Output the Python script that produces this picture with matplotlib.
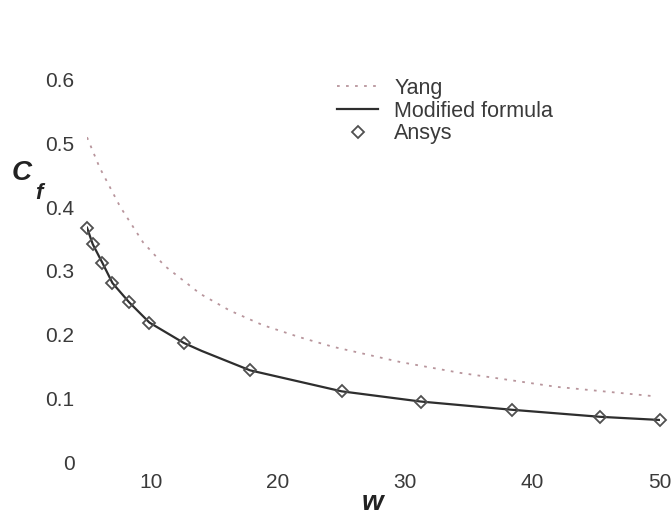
import matplotlib

matplotlib.use("Agg")
import matplotlib.pyplot as plt

# values
yang_w = [5.0, 6.0, 7.6, 9.4, 11.1, 13.9, 16.2, 18.8, 21.7, 24.3, 29.6, 34.3, 41.9, 49.7]
yang_cf = [0.51, 0.462, 0.401, 0.345, 0.308, 0.264, 0.238, 0.215, 0.196, 0.181, 0.157, 0.140, 0.118, 0.103]

mod_w = [5.0, 5.45, 6.2, 7.0, 8.3, 9.9, 12.6, 14.0, 17.8, 25.0, 31.2, 38.4, 45.3, 50.0]
mod_cf = [0.368, 0.342, 0.313, 0.281, 0.251, 0.219, 0.187, 0.1745, 0.144, 0.111, 0.095, 0.082, 0.071, 0.066]

ansys_w = [5.0, 5.45, 6.2, 7.0, 8.3, 9.9, 12.6, 17.8, 25.0, 31.2, 38.4, 45.3, 50.0]
ansys_cf = [0.368, 0.342, 0.313, 0.281, 0.251, 0.219, 0.187, 0.144, 0.111, 0.095, 0.082, 0.071, 0.066]

xticks = [10, 20, 30, 40, 50]
yticks = [0, 0.1, 0.2, 0.3, 0.4, 0.5, 0.6]

plt.rcParams["font.family"] = ["Liberation Sans", "DejaVu Sans"]
text_col = "#3a3a3a"

fig = plt.figure(figsize=(6.72, 5.19), dpi=100)
ax = fig.add_axes([0.1295, 0.1098, 0.8525, 0.7362])

ax.plot(yang_w, yang_cf, color="#b8959c", linestyle=(0, (1.5, 3.5)), linewidth=1.3, label="Yang")
ax.plot(mod_w, mod_cf, color="#2e2e2e", linewidth=1.6, label="Modified formula")
ax.plot(ansys_w, ansys_cf, linestyle="none", marker="D", markersize=6.5, markerfacecolor="none",
        markeredgecolor="#505050", markeredgewidth=1.3, clip_on=False, label="Ansys")

ax.set_xlim(5, 50)
ax.set_ylim(0, 0.6)
ax.set_xticks(xticks)
ax.set_yticks(yticks)
ax.set_yticklabels(["0" if v == 0 else f"{v:.1f}" for v in yticks])
for s in ax.spines.values():
    s.set_visible(False)
ax.tick_params(axis="both", length=0, labelsize=15, labelcolor=text_col)
ax.tick_params(axis="y", pad=9)
ax.tick_params(axis="x", pad=8)

fig.text(0.018, 0.667, "C", fontsize=20, fontweight="bold", fontstyle="italic", color="#222222",
         ha="left", va="center")
fig.text(0.053, 0.628, "f", fontsize=16, fontweight="bold", fontstyle="italic", color="#222222",
         ha="left", va="center")
fig.text(0.555, 0.03, "w", fontsize=20, fontweight="bold", fontstyle="italic", color="#222222",
         ha="center", va="center")

leg = ax.legend(loc="upper left", bbox_to_anchor=(0.502, 0.85), bbox_transform=fig.transFigure,
                frameon=False, fontsize=15.5, numpoints=1, handlelength=1.9, handletextpad=0.75,
                labelspacing=0.08, borderpad=0, borderaxespad=0)
for t in leg.get_texts():
    t.set_color(text_col)

fig.savefig("out.png", dpi=100)
